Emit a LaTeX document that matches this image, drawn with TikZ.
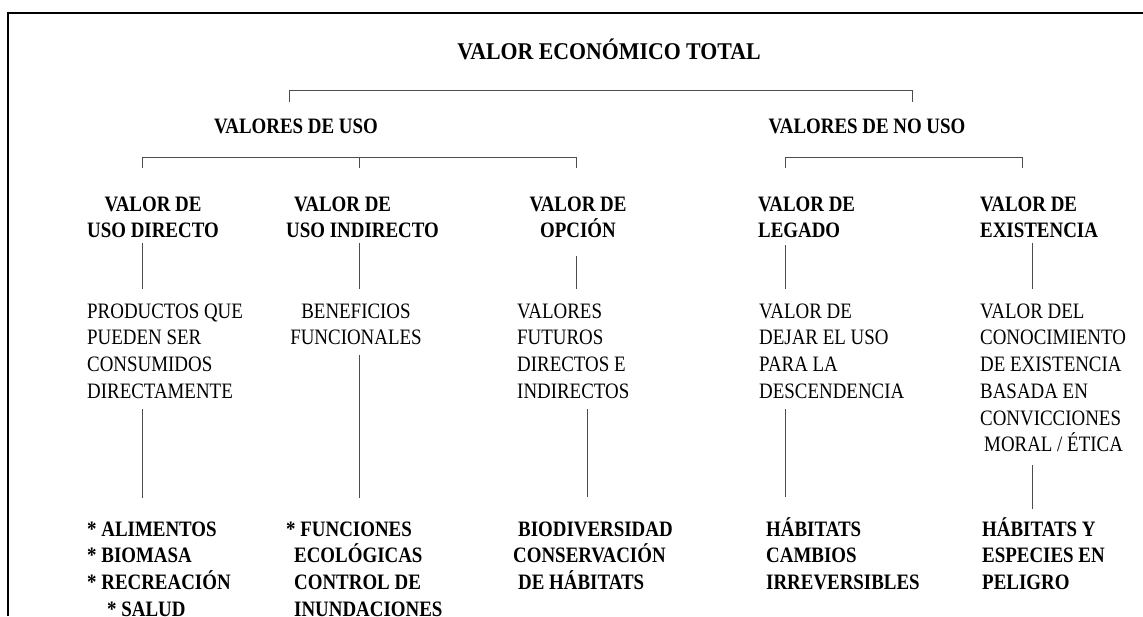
\documentclass[tikz,border=0pt]{standalone}
\usepackage{fontspec}
\setmainfont{Liberation Serif}[FakeStretch=0.86]
\newfontfamily\titlefont{Liberation Serif}[FakeStretch=0.91]
\newcommand\hstrut{\rule{0pt}{27pt}}
\newcommand\dstrut{\rule[-8pt]{0pt}{8pt}}
\tikzset{every node/.style={inner sep=0pt,font=\fontsize{22}{26.7}\selectfont}}
\tikzset{bx/.style={align=left,anchor=north west,execute at end node=\dstrut}}
\tikzset{cx/.style={bx,align=center,anchor=north}}
\tikzset{bf/.style={font=\fontsize{22}{26.7}\selectfont\bfseries}}
\tikzset{link/.style={draw=black!70,line width=1pt}}

\begin{document}
\begin{tikzpicture}[x=1pt,y=-1pt]
\useasboundingbox (0,0) rectangle (1143,616);
\draw[line width=2pt] (8,616) -- (8,13) -- (1143,13);

\node[anchor=base,font=\titlefont\fontsize{24}{28}\selectfont\bfseries] (tot) at (609,59) {VALOR ECONÓMICO TOTAL};
\node[bf,anchor=base] (vu) at (296,133) {VALORES DE USO};
\node[bf,anchor=base] (vnu) at (867,133) {VALORES DE NO USO};

% second level
\node[cx,bf] (h1) at (153,184) {\hstrut VALOR DE\\USO DIRECTO};
\node[bx,bf] (h2) at (286,184) {\hstrut\hspace*{8pt}VALOR DE\\USO INDIRECTO};
\node[cx,bf] (h3) at (578,184) {\hstrut VALOR DE\\OPCIÓN};
\node[bx,bf] (h4) at (758,184) {\hstrut VALOR DE\\LEGADO};
\node[bx,bf] (h5) at (980,184) {\hstrut VALOR DE\\EXISTENCIA};

\node[bx] (m1) at (87,291) {\hstrut PRODUCTOS QUE\\PUEDEN SER\\CONSUMIDOS\\DIRECTAMENTE};
\node[cx] (m2) at (356,291) {\hstrut BENEFICIOS\\FUNCIONALES};
\node[bx] (m3) at (517,291) {\hstrut VALORES\\FUTUROS\\DIRECTOS E\\INDIRECTOS};
\node[bx] (m4) at (759,291) {\hstrut VALOR DE\\DEJAR EL USO\\PARA LA\\DESCENDENCIA};
\node[bx] (m5) at (980,291) {\hstrut VALOR DEL\\CONOCIMIENTO\\DE EXISTENCIA\\BASADA EN\\CONVICCIONES\\\hspace*{4pt}MORAL / ÉTICA};

\node[bx,bf] (b1) at (87,509) {\hstrut * ALIMENTOS\\* BIOMASA\\* RECREACIÓN\\\hspace*{20pt}* SALUD};
\node[bx,bf] (b2) at (286,509) {\hstrut * FUNCIONES\\\hspace*{8pt}ECOLÓGICAS\\\hspace*{8pt}CONTROL DE\\\hspace*{8pt}INUNDACIONES};
\node[bx,bf] (b3) at (513,509) {\hstrut\hspace*{5pt}BIODIVERSIDAD\\CONSERVACIÓN\\\hspace*{5pt}DE HÁBITATS};
\node[bx,bf] (b4) at (766,509) {\hstrut HÁBITATS\\CAMBIOS\\IRREVERSIBLES};
\node[bx,bf] (b5) at (982,509) {\hstrut HÁBITATS Y\\ESPECIES EN\\PELIGRO};

% brackets
\coordinate (tl) at (289,102);
\coordinate (tr) at (912,102);
\foreach \c/\x in {1/142,2/359,3/576,4/785,5/1022}
  \coordinate (s\c) at (\x,168);
\draw[link] (tl) -- ++(0,-12) -| (tr);
\draw[link] (s1) -- ++(0,-11) -| (s3);
\draw[link] (s2) -- ++(0,-11);
\draw[link] (s4) -- ++(0,-11) -| (s5);

% vertical links
\foreach \c/\x in {1/142,2/359,3/576,4/785,5/1032}
  \coordinate (u\c) at (\x,0);
\foreach \c/\x in {1/142,2/359,3/587,4/785,5/1032}
  \coordinate (l\c) at (\x,0);
\foreach \c/\a in {1/-2.7,2/-2.7,3/10.3,4/-0.7,5/-2.7}
  \draw[link,shorten <=\a pt,shorten >=2pt] (h\c.south -| u\c) -- (m\c.north -| u\c);
\foreach \c/\a/\b in {1/2.9/11,2/2.3/11,3/2.9/12,4/2.9/12,5/5.5/0}
  \draw[link,shorten <=\a pt,shorten >=\b pt] (m\c.south -| l\c) -- (b\c.north -| l\c);
\end{tikzpicture}
\end{document}
